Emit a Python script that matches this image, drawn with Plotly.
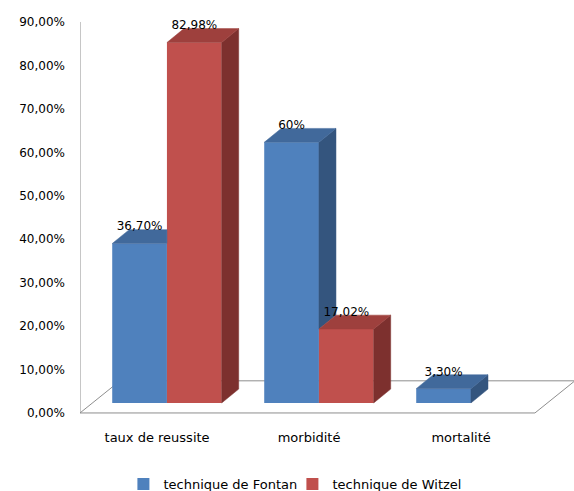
import plotly.graph_objects as go

# ---------------- data ----------------
categories = ["taux de reussite", "morbidité", "mortalité"]
series_names = ["technique de Fontan", "technique de Witzel"]
fontan = [36.70, 60.00, 3.30]
witzel = [82.98, 17.02, None]
y_tick_values = [0, 10, 20, 30, 40, 50, 60, 70, 80, 90]

# ---------------- style ----------------
FRONT = ["#4F81BD", "#C0504D"]
TOP = ["#41699B", "#9E403D"]
SIDE = ["#34557E", "#7D302E"]
W = 0.36          # bar width (group units)
BASE = 2.3        # bars stand slightly behind the front floor edge
DX, DY = 0.112, 3.2          # bar depth offset
FDX, FDY = 0.263, 7.4        # floor depth offset
X_LEFT, X_FRONT_RIGHT = -0.572, 2.421
XR = [-0.572, 2.678]
YR = [-1.62, 91.61]
GRAY = "#8E8E8E"


def fmt(v):
    if abs(v - round(v)) < 1e-9:
        return f"{int(round(v))}%"
    return f"{v:.2f}".replace(".", ",") + "%"


series = [fontan, witzel]
fig = go.Figure()

# depth faces (drawn as filled polygons in data coordinates)
for s, vals in enumerate(series):
    for i, v in enumerate(vals):
        if v is None:
            continue
        x0 = i - W if s == 0 else i
        x1 = x0 + W
        top = BASE + v
        other_top = None
        if s == 0 and witzel[i] is not None:
            other_top = BASE + witzel[i]
        # side face
        lo = BASE if other_top is None else max(BASE, other_top)
        if lo < top:
            xs = [x1, x1, x1 + DX, x1 + DX, x1]
            ys = [lo, top, top + DY, lo + DY, lo]
            fig.add_trace(go.Scatter(x=xs, y=ys, mode="lines", fill="toself",
                                     fillcolor=SIDE[s], line=dict(width=0.5, color=SIDE[s]),
                                     hoverinfo="skip", showlegend=False))
        # top face
        if other_top is not None and other_top >= top + DY:
            xs = [x0, x1, x1, x0 + DX, x0]
            ys = [top, top, top + DY, top + DY, top]
        else:
            xs = [x0, x1, x1 + DX, x0 + DX, x0]
            ys = [top, top, top + DY, top + DY, top]
        fig.add_trace(go.Scatter(x=xs, y=ys, mode="lines", fill="toself",
                                 fillcolor=TOP[s], line=dict(width=0.5, color=TOP[s]),
                                 hoverinfo="skip", showlegend=False))

# front faces as bars
for s, vals in enumerate(series):
    xs = [i - W / 2 if s == 0 else i + W / 2 for i in range(len(categories))]
    fig.add_trace(go.Bar(x=xs, y=vals, base=BASE, width=W, name=series_names[s],
                         marker=dict(color=FRONT[s], line=dict(width=0))))

# data labels
for s, vals in enumerate(series):
    lx, ly, lt = [], [], []
    for i, v in enumerate(vals):
        if v is None:
            continue
        lx.append((i - W / 2 if s == 0 else i + W / 2))
        ly.append(BASE + v + DY + 0.5)
        lt.append(fmt(v))
    fig.add_trace(go.Scatter(x=lx, y=ly, text=lt, mode="text", textposition="middle center",
                             textfont=dict(size=12, color="#000000"),
                             hoverinfo="skip", showlegend=False))

# floor and value axis line
shapes = [
    dict(type="line", x0=X_LEFT, y0=0, x1=X_LEFT, y1=y_tick_values[-1]),
    dict(type="line", x0=X_LEFT, y0=0, x1=X_FRONT_RIGHT, y1=0),
    dict(type="line", x0=X_LEFT + FDX, y0=FDY, x1=X_FRONT_RIGHT + FDX, y1=FDY),
    dict(type="line", x0=X_LEFT, y0=0, x1=X_LEFT + FDX, y1=FDY),
    dict(type="line", x0=X_FRONT_RIGHT, y0=0, x1=X_FRONT_RIGHT + FDX, y1=FDY),
]
for sh in shapes:
    sh.update(xref="x", yref="y", layer="below", line=dict(color=GRAY, width=1))

fig.update_layout(
    width=574, height=491,
    margin=dict(l=80, r=0, t=15, b=71, autoexpand=False),
    paper_bgcolor="white", plot_bgcolor="white",
    font=dict(family="DejaVu Sans", color="#000000"),
    barmode="overlay",
    shapes=shapes,
    showlegend=True,
    legend=dict(orientation="h", x=0.215, xanchor="left", xref="container",
                y=(491 - 484) / 491, yanchor="middle", yref="container",
                font=dict(size=13), traceorder="normal", itemwidth=30,
                entrywidth=124, entrywidthmode="pixels", bgcolor="rgba(0,0,0,0)"),
    xaxis=dict(range=XR, tickmode="array", tickvals=[i - 0.065 for i in range(len(categories))],
               ticktext=categories, showgrid=False, zeroline=False, showline=False,
               ticks="", tickfont=dict(size=13), ticklabelstandoff=8, fixedrange=True,
               automargin=False),
    yaxis=dict(range=YR, tickmode="array", tickvals=y_tick_values,
               ticktext=[f"{v:.2f}".replace(".", ",") + "%" for v in y_tick_values],
               showgrid=False, zeroline=False, showline=False, ticks="",
               tickfont=dict(size=12), ticklabelstandoff=14, fixedrange=True,
               automargin=False),
)

fig.write_html("out.html")
